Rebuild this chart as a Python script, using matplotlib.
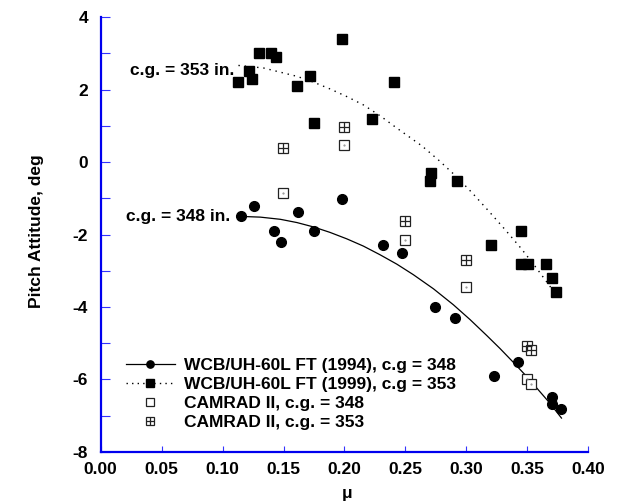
import matplotlib
matplotlib.use("Agg")
import matplotlib.pyplot as plt
from matplotlib.lines import Line2D
from matplotlib.ticker import MultipleLocator

plt.rcParams['font.family'] = ['Liberation Sans', 'DejaVu Sans']
plt.rcParams['font.weight'] = 'bold'
plt.rcParams['axes.unicode_minus'] = False

# Flight test 1994, c.g. = 348
ft94_mu = [0.115, 0.126, 0.142, 0.148, 0.162, 0.175, 0.198, 0.232, 0.247,
           0.274, 0.291, 0.323, 0.342, 0.370, 0.3705, 0.378]
ft94_theta = [-1.50, -1.20, -1.89, -2.21, -1.39, -1.89, -1.01, -2.30, -2.50,
              -4.01, -4.31, -5.90, -5.51, -6.49, -6.69, -6.82]

# Flight test 1999, c.g. = 353
ft99_mu = [0.113, 0.122, 0.124, 0.130, 0.1396, 0.144, 0.161, 0.1715, 0.175,
           0.198, 0.2226, 0.2407, 0.271, 0.270, 0.292, 0.3202, 0.3448,
           0.3448, 0.3503, 0.365, 0.370, 0.3733]
ft99_theta = [2.20, 2.52, 2.30, 3.01, 3.01, 2.90, 2.11, 2.38, 1.09,
              3.40, 1.20, 2.20, -0.30, -0.51, -0.51, -2.30, -1.89,
              -2.81, -2.81, -2.81, -3.20, -3.60]

# CAMRAD II predictions
cam348_mu = [0.1497, 0.200, 0.2497, 0.2997, 0.3495, 0.353]
cam348_theta = [-0.84, 0.48, -2.15, -3.46, -5.99, -6.12]
cam353_mu = [0.1497, 0.200, 0.2497, 0.2997, 0.3495, 0.353]
cam353_theta = [0.40, 0.97, -1.64, -2.70, -5.07, -5.20]

# Trend curves
fit348_mu = [0.115, 0.131, 0.1474, 0.161, 0.1745, 0.188, 0.2019, 0.2155,
             0.2292, 0.243, 0.2565, 0.273, 0.2893, 0.303, 0.3167, 0.3276,
             0.3385, 0.348, 0.3577, 0.368, 0.378]
fit348_theta = [-1.50, -1.52, -1.58, -1.67, -1.79, -1.94, -2.12, -2.32,
                -2.56, -2.82, -3.11, -3.50, -3.94, -4.35, -4.79, -5.15,
                -5.53, -5.87, -6.24, -6.64, -7.07]
fit353_mu = [0.113, 0.1335, 0.1609, 0.1745, 0.1882, 0.2019, 0.2155, 0.2292,
             0.2429, 0.2634, 0.2777, 0.2921, 0.3053, 0.3185, 0.3316, 0.3448,
             0.3571, 0.3694, 0.3733]
fit353_theta = [2.67, 2.60, 2.37, 2.21, 2.02, 1.81, 1.58, 1.28,
                0.94, 0.45, 0.04, -0.41, -0.87, -1.36, -1.86, -2.38,
                -2.91, -3.47, -3.63]

labels = ["WCB/UH-60L FT (1994), c.g = 348",
          "WCB/UH-60L FT (1999), c.g = 353",
          "CAMRAD II, c.g. = 348",
          "CAMRAD II, c.g. = 353"]

FS = 12.5
fig = plt.figure(figsize=(6.23, 5.04), dpi=100)
ax = fig.add_axes([0.1616, 0.1037, 0.7827, 0.8620])

ax.plot(fit348_mu, fit348_theta, '-', color='black', lw=0.9)
ax.plot(fit353_mu, fit353_theta, color='black', lw=1.0, linestyle=(0, (1, 3.5)))

ax.plot(ft94_mu, ft94_theta, 'o', color='black', ms=7.0, mec='black', ls='none')
ax.plot(ft99_mu, ft99_theta, 's', color='black', ms=7.2, mec='black', ls='none')

ax.plot(cam348_mu, cam348_theta, 's', mfc='white', mec='#222222', mew=0.9, ms=6.8, ls='none')
ax.plot(cam348_mu, cam348_theta, '.', color='#888888', ms=1.0, ls='none')
ax.plot(cam353_mu, cam353_theta, 's', mfc='white', mec='#222222', mew=0.9, ms=6.8, ls='none')
ax.plot(cam353_mu, cam353_theta, '+', color='#222222', mew=0.9, ms=6.8, ls='none')

ax.text(0.0242, 2.41, "c.g. = 353 in.", fontsize=FS, fontweight='bold',
        ha='left', va='baseline')
ax.text(0.0209, -1.64, "c.g. = 348 in.", fontsize=FS, fontweight='bold',
        ha='left', va='baseline')

ax.set_xlim(0.0, 0.40)
ax.set_ylim(-8, 4)
ax.xaxis.set_major_locator(MultipleLocator(0.05))
ax.yaxis.set_major_locator(MultipleLocator(2))
ax.yaxis.set_minor_locator(MultipleLocator(1))
ax.xaxis.set_major_formatter(matplotlib.ticker.FormatStrFormatter('%.2f'))

for s in ['top', 'right']:
    ax.spines[s].set_visible(False)
for s in ['left', 'bottom']:
    ax.spines[s].set_color('#0000ee')
    ax.spines[s].set_linewidth(1.6)

ax.tick_params(axis='y', which='both', direction='in', length=6.5, width=0.8,
               color='#3333ff', labelsize=FS, pad=9)
ax.tick_params(axis='x', which='both', direction='in', length=4.3, width=0.8,
               color='#3333ff', labelsize=FS, pad=7.5)
for lab in ax.get_xticklabels() + ax.get_yticklabels():
    lab.set_fontweight('bold')

ax.set_ylabel("Pitch Attitude, deg", fontsize=FS, fontweight='bold')
ax.set_xlabel("\u03bc", fontsize=FS, fontweight='bold')
ax.yaxis.set_label_coords(-0.116, 0.508)
ax.xaxis.set_label_coords(0.505, -0.079)

h1 = Line2D([], [], color='black', lw=0.9, marker='o', ms=7.0)
h2 = Line2D([], [], color='black', lw=1.0, linestyle=(0, (1, 3)), marker='s', ms=7.2)
h3 = Line2D([], [], ls='none', marker='s', mfc='white', mec='#222222', mew=0.9, ms=6.8)
h4a = Line2D([], [], ls='none', marker='s', mfc='white', mec='#222222', mew=0.9, ms=6.8)
h4b = Line2D([], [], ls='none', marker='+', color='#222222', mew=0.9, ms=6.8)
leg = ax.legend([h1, h2, h3, (h4a, h4b)], labels, loc='upper left',
                bbox_to_anchor=(0.0519, 0.216), frameon=False, borderpad=0,
                borderaxespad=0, handlelength=2.8, handletextpad=0.55,
                labelspacing=0.22, markerscale=0.75,
                prop={'size': FS, 'weight': 'bold'})

fig.savefig("out.png", dpi=100)
